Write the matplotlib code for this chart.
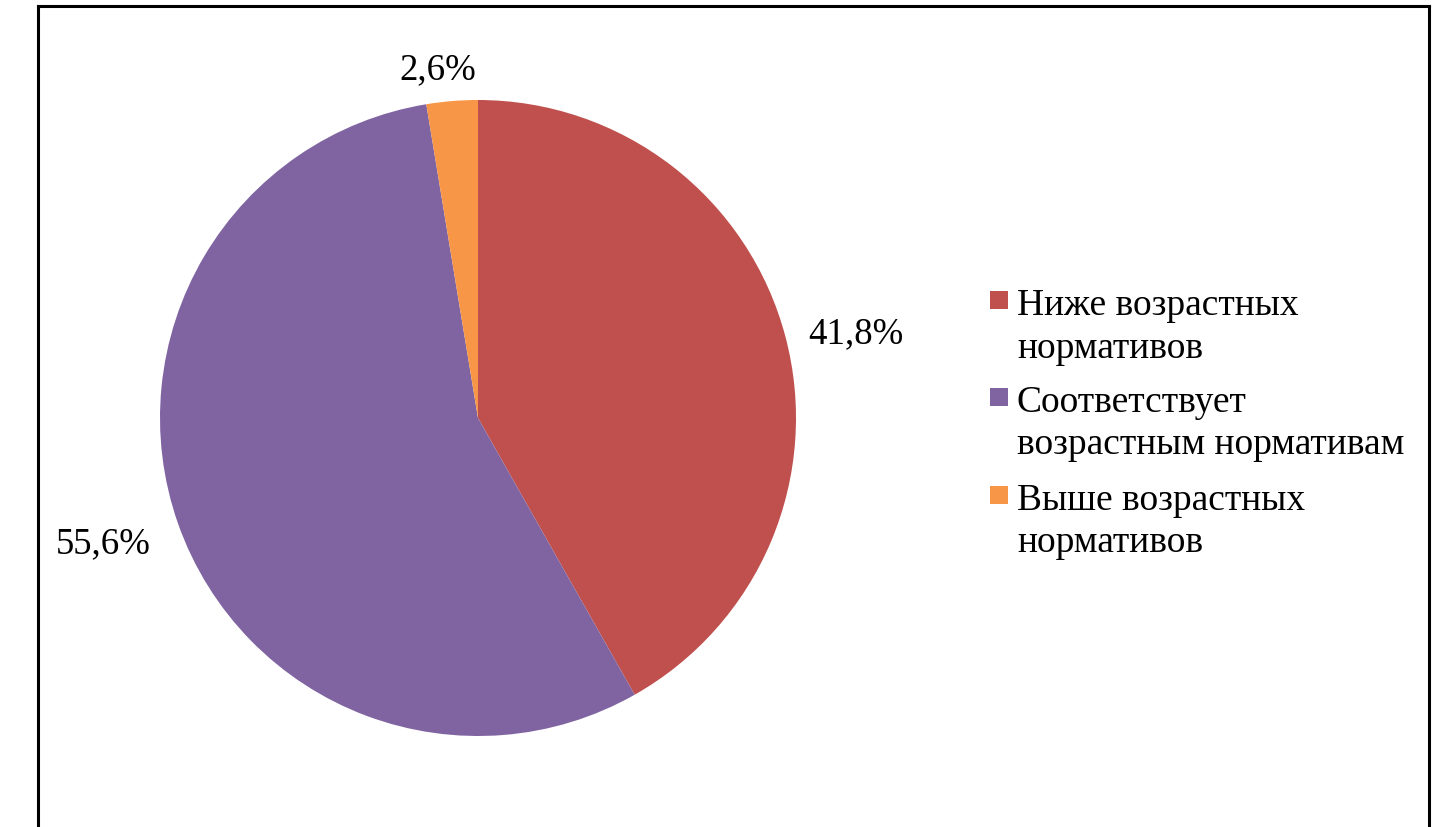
import matplotlib
matplotlib.use("Agg")
import matplotlib.pyplot as plt
from matplotlib.patches import Rectangle
from matplotlib.lines import Line2D
import numpy as np

# Data
categories = ["Ниже возрастных\nнормативов",
              "Соответствует\nвозрастным нормативам",
              "Выше возрастных\nнормативов"]
values = [41.8, 55.6, 2.6]
value_labels = ["41,8%", "55,6%", "2,6%"]
colors = ["#C0504D", "#8064A2", "#F79646"]

# Value label placement: distance from the centre (radii) and angular nudge (deg)
label_dist = [1.221, 1.239, 1.117]
label_shift = [-1.5, -1.56, 1.78]

W, H = 1434, 828
plt.rcParams["font.family"] = ["Liberation Serif", "DejaVu Serif"]
FS_LABEL = 26.5
FS_LEGEND = 27

fig = plt.figure(figsize=(W / 100, H / 100), dpi=100)
fig.patch.set_facecolor("white")


def fx(px):
    return px / W


def fy(py):
    return 1 - py / H


# Pie axes: centre (478, 419) px, radius 318 px
cx, cy, r = 478, 419, 318
ax = fig.add_axes([fx(cx - r), fy(cy + r), 2 * r / W, 2 * r / H])
wedges, _ = ax.pie(values, colors=colors, startangle=90, counterclock=False,
                   radius=1, wedgeprops=dict(linewidth=0))
ax.set_xlim(-1, 1)
ax.set_ylim(-1, 1)
ax.set_aspect("auto")
ax.axis("off")

for w, lab, d, s in zip(wedges, value_labels, label_dist, label_shift):
    ang = np.deg2rad((w.theta1 + w.theta2) / 2 + s)
    ax.text(d * np.cos(ang), d * np.sin(ang), lab, ha="center",
            va="center_baseline", fontsize=FS_LABEL, color="black")

# Legend: colour square beside the first line of each entry
leg_x_box, leg_x_text = 990, 1017
leg_baselines = [315, 412, 510]
line_step = 42.5
box = 18
for cat, col, yb in zip(categories, colors, leg_baselines):
    fig.add_artist(Rectangle((fx(leg_x_box), fy(yb - 5)), box / W, box / H,
                             transform=fig.transFigure, facecolor=col,
                             edgecolor="none"))
    for i, line in enumerate(cat.split("\n")):
        fig.text(fx(leg_x_text), fy(yb + i * line_step), line, ha="left",
                 va="baseline", fontsize=FS_LEGEND, color="black")

# Chart frame (open at the bottom)
lw = 2.2
fig.add_artist(Line2D([fx(38), fx(38)], [fy(7), 0], transform=fig.transFigure,
                      color="black", linewidth=lw))
fig.add_artist(Line2D([fx(38), fx(1429)], [fy(7), fy(7)], transform=fig.transFigure,
                      color="black", linewidth=lw, solid_capstyle="projecting"))
fig.add_artist(Line2D([fx(1429), fx(1429)], [fy(7), 0], transform=fig.transFigure,
                      color="black", linewidth=lw))

fig.savefig("out.png", dpi=100, facecolor="white")
